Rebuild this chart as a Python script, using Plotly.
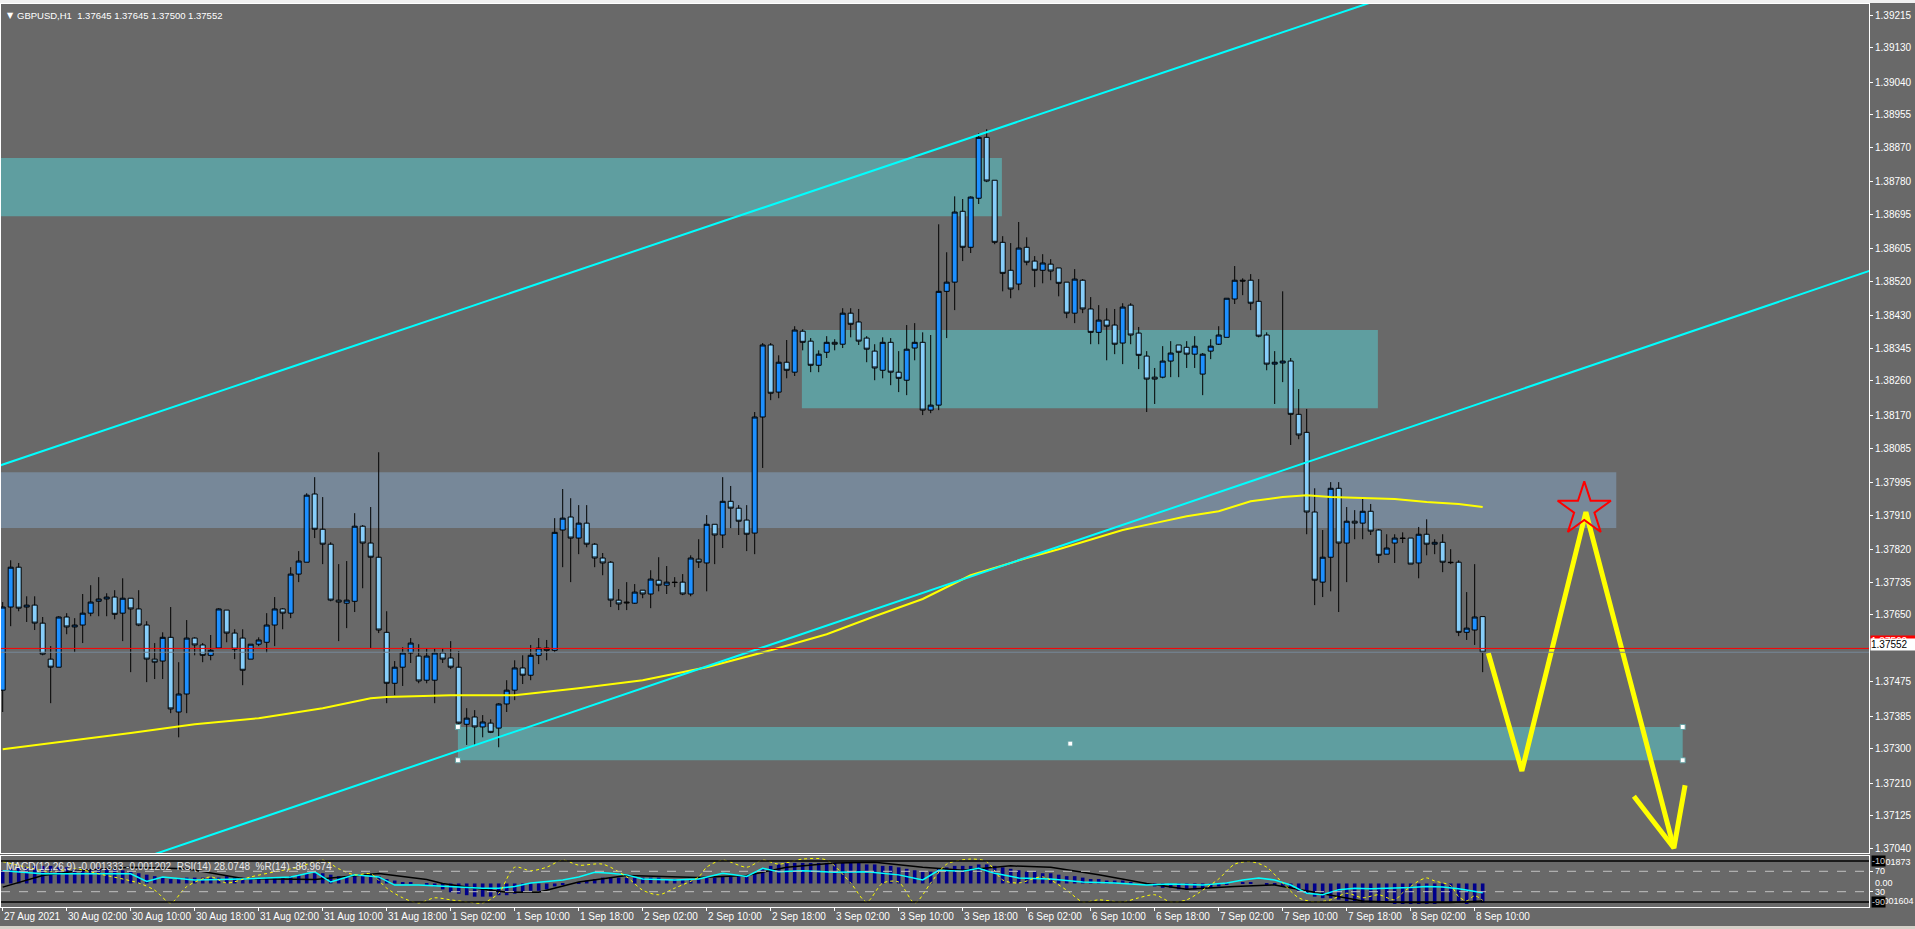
import plotly.graph_objects as go

# ---------------- data (GBPUSD H1) ----------------
opens = [1.37453, 1.37670, 1.37774, 1.37670, 1.37675, 1.37628, 1.37534, 1.37513, 1.37644, 1.37618,
         1.37623, 1.37654, 1.37685, 1.37691, 1.37696, 1.37654, 1.37693, 1.37665, 1.37623, 1.37534,
         1.37529, 1.37591, 1.37396, 1.37443, 1.37589, 1.37571, 1.37544, 1.37563, 1.37662, 1.37602,
         1.37589, 1.37534, 1.37573, 1.37578, 1.37623, 1.37665, 1.37654, 1.37756, 1.37787, 1.37965,
         1.37873, 1.37834, 1.37688, 1.37680, 1.37685, 1.37881, 1.37837, 1.37800, 1.37604, 1.37471,
         1.37513, 1.37550, 1.37542, 1.37479, 1.37479, 1.37550, 1.37537, 1.37513, 1.37364, 1.37383,
         1.37357, 1.37367, 1.37354, 1.37417, 1.37453, 1.37511, 1.37492, 1.37544, 1.37563, 1.37557,
         1.37871, 1.37905, 1.37850, 1.37889, 1.37834, 1.37798, 1.37787, 1.37688, 1.37683, 1.37680,
         1.37714, 1.37704, 1.37740, 1.37727, 1.37735, 1.37735, 1.37704, 1.37795, 1.37785, 1.37886,
         1.37858, 1.37946, 1.37928, 1.37897, 1.37863, 1.38166, 1.38354, 1.38231, 1.38309, 1.38283,
         1.38390, 1.38364, 1.38301, 1.38335, 1.38361, 1.38356, 1.38437, 1.38414, 1.38372, 1.38338,
         1.38288, 1.38361, 1.38283, 1.38262, 1.38346, 1.38361, 1.38184, 1.38197, 1.38494, 1.38518,
         1.38703, 1.38609, 1.38737, 1.38896, 1.38784, 1.38622, 1.38549, 1.38513, 1.38609, 1.38573,
         1.38549, 1.38565, 1.38555, 1.38518, 1.38437, 1.38523, 1.38448, 1.38387, 1.38419, 1.38406,
         1.38359, 1.38458, 1.38385, 1.38325, 1.38270, 1.38270, 1.38312, 1.38354, 1.38348, 1.38330,
         1.38278, 1.38338, 1.38356, 1.38374, 1.38474, 1.38523, 1.38523, 1.38468, 1.38380, 1.38304,
         1.38307, 1.38312, 1.38173, 1.38126, 1.37918, 1.37735, 1.37800, 1.37980, 1.37837, 1.37894,
         1.37889, 1.37920, 1.37871, 1.37808, 1.37837, 1.37850, 1.37850, 1.37785, 1.37860, 1.37834,
         1.37839, 1.37787, 1.37787, 1.37604, 1.37610, 1.37645]
highs = [1.37683, 1.37792, 1.37785, 1.37698, 1.37698, 1.37644, 1.37568, 1.37646, 1.37654, 1.37641,
         1.37704, 1.37727, 1.37748, 1.37706, 1.37714, 1.37745, 1.37693, 1.37714, 1.37633, 1.37576,
         1.37604, 1.37670, 1.37526, 1.37636, 1.37591, 1.37576, 1.37597, 1.37667, 1.37662, 1.37612,
         1.37612, 1.37573, 1.37591, 1.37654, 1.37696, 1.37667, 1.37774, 1.37816, 1.37967, 1.38009,
         1.37957, 1.37839, 1.37782, 1.37790, 1.37915, 1.37884, 1.37931, 1.38074, 1.37659, 1.37529,
         1.37565, 1.37589, 1.37573, 1.37563, 1.37563, 1.37563, 1.37581, 1.37555, 1.37406, 1.37401,
         1.37388, 1.37377, 1.37419, 1.37479, 1.37531, 1.37544, 1.37571, 1.37589, 1.37584, 1.37902,
         1.37978, 1.37954, 1.37936, 1.37936, 1.37837, 1.37811, 1.37790, 1.37717, 1.37735, 1.37730,
         1.37714, 1.37766, 1.37800, 1.37777, 1.37748, 1.37756, 1.37805, 1.37847, 1.37910, 1.37886,
         1.38009, 1.37986, 1.37936, 1.37936, 1.38179, 1.38359, 1.38359, 1.38327, 1.38367, 1.38403,
         1.38395, 1.38372, 1.38340, 1.38377, 1.38369, 1.38450, 1.38450, 1.38448, 1.38377, 1.38356,
         1.38374, 1.38372, 1.38338, 1.38406, 1.38411, 1.38387, 1.38380, 1.38669, 1.38596, 1.38742,
         1.38735, 1.38742, 1.38907, 1.38917, 1.38784, 1.38638, 1.38620, 1.38675, 1.38635, 1.38586,
         1.38591, 1.38578, 1.38555, 1.38518, 1.38552, 1.38526, 1.38479, 1.38458, 1.38450, 1.38448,
         1.38463, 1.38463, 1.38401, 1.38338, 1.38294, 1.38351, 1.38364, 1.38354, 1.38364, 1.38377,
         1.38333, 1.38369, 1.38403, 1.38476, 1.38560, 1.38528, 1.38539, 1.38526, 1.38387, 1.38338,
         1.38494, 1.38320, 1.38239, 1.38187, 1.37980, 1.37871, 1.37996, 1.37996, 1.37931, 1.37923,
         1.37954, 1.37939, 1.37873, 1.37860, 1.37860, 1.37865, 1.37850, 1.37879, 1.37899, 1.37847,
         1.37860, 1.37821, 1.37792, 1.37709, 1.37782, 1.37645]
lows = [1.37396, 1.37620, 1.37659, 1.37631, 1.37610, 1.37544, 1.37419, 1.37513, 1.37599, 1.37552,
        1.37576, 1.37646, 1.37646, 1.37646, 1.37638, 1.37581, 1.37500, 1.37620, 1.37474, 1.37482,
        1.37482, 1.37393, 1.37330, 1.37393, 1.37544, 1.37526, 1.37531, 1.37563, 1.37578, 1.37534,
        1.37466, 1.37534, 1.37568, 1.37550, 1.37568, 1.37612, 1.37641, 1.37735, 1.37787, 1.37850,
        1.37782, 1.37685, 1.37581, 1.37615, 1.37657, 1.37719, 1.37563, 1.37602, 1.37419, 1.37440,
        1.37464, 1.37524, 1.37471, 1.37471, 1.37419, 1.37524, 1.37508, 1.37357, 1.37310, 1.37310,
        1.37330, 1.37341, 1.37304, 1.37396, 1.37427, 1.37469, 1.37479, 1.37521, 1.37531, 1.37552,
        1.37774, 1.37735, 1.37808, 1.37826, 1.37774, 1.37753, 1.37670, 1.37662, 1.37662, 1.37678,
        1.37693, 1.37667, 1.37711, 1.37704, 1.37722, 1.37701, 1.37698, 1.37772, 1.37711, 1.37782,
        1.37824, 1.37876, 1.37858, 1.37816, 1.37808, 1.38033, 1.38210, 1.38215, 1.38267, 1.38273,
        1.38340, 1.38283, 1.38283, 1.38320, 1.38340, 1.38346, 1.38374, 1.38354, 1.38309, 1.38262,
        1.38267, 1.38249, 1.38231, 1.38223, 1.38314, 1.38171, 1.38176, 1.38184, 1.38372, 1.38445,
        1.38573, 1.38594, 1.38722, 1.38779, 1.38617, 1.38494, 1.38476, 1.38497, 1.38562, 1.38505,
        1.38515, 1.38523, 1.38481, 1.38424, 1.38411, 1.38437, 1.38356, 1.38356, 1.38314, 1.38330,
        1.38304, 1.38356, 1.38291, 1.38179, 1.38200, 1.38267, 1.38270, 1.38270, 1.38294, 1.38294,
        1.38223, 1.38317, 1.38354, 1.38374, 1.38461, 1.38484, 1.38445, 1.38374, 1.38288, 1.38200,
        1.38257, 1.38093, 1.38108, 1.37860, 1.37675, 1.37696, 1.37711, 1.37657, 1.37735, 1.37847,
        1.37847, 1.37858, 1.37785, 1.37808, 1.37785, 1.37837, 1.37782, 1.37745, 1.37805, 1.37808,
        1.37761, 1.37782, 1.37594, 1.37584, 1.37571, 1.37500]
closes = [1.37670, 1.37774, 1.37667, 1.37675, 1.37628, 1.37547, 1.37513, 1.37644, 1.37618, 1.37623,
          1.37654, 1.37683, 1.37691, 1.37696, 1.37651, 1.37693, 1.37665, 1.37623, 1.37534, 1.37526,
          1.37591, 1.37404, 1.37443, 1.37589, 1.37571, 1.37544, 1.37557, 1.37665, 1.37602, 1.37560,
          1.37505, 1.37573, 1.37584, 1.37623, 1.37665, 1.37654, 1.37756, 1.37790, 1.37962, 1.37873,
          1.37834, 1.37688, 1.37683, 1.37688, 1.37881, 1.37837, 1.37800, 1.37610, 1.37471, 1.37513,
          1.37550, 1.37576, 1.37477, 1.37542, 1.37550, 1.37534, 1.37513, 1.37367, 1.37380, 1.37357,
          1.37370, 1.37343, 1.37417, 1.37453, 1.37511, 1.37492, 1.37544, 1.37563, 1.37557, 1.37865,
          1.37902, 1.37850, 1.37889, 1.37834, 1.37798, 1.37785, 1.37688, 1.37678, 1.37681, 1.37709,
          1.37704, 1.37743, 1.37727, 1.37735, 1.37734, 1.37704, 1.37798, 1.37787, 1.37886, 1.37858,
          1.37946, 1.37928, 1.37894, 1.37860, 1.38166, 1.38354, 1.38228, 1.38309, 1.38288, 1.38393,
          1.38361, 1.38301, 1.38330, 1.38361, 1.38356, 1.38437, 1.38408, 1.38364, 1.38343, 1.38294,
          1.38361, 1.38283, 1.38267, 1.38343, 1.38361, 1.38184, 1.38197, 1.38494, 1.38518, 1.38701,
          1.38609, 1.38740, 1.38896, 1.38782, 1.38622, 1.38541, 1.38500, 1.38607, 1.38570, 1.38549,
          1.38568, 1.38547, 1.38515, 1.38437, 1.38526, 1.38448, 1.38387, 1.38419, 1.38403, 1.38356,
          1.38453, 1.38380, 1.38327, 1.38265, 1.38265, 1.38312, 1.38333, 1.38335, 1.38330, 1.38351,
          1.38330, 1.38351, 1.38380, 1.38476, 1.38523, 1.38521, 1.38463, 1.38377, 1.38304, 1.38309,
          1.38312, 1.38173, 1.38119, 1.37918, 1.37740, 1.37800, 1.37980, 1.37837, 1.37894, 1.37889,
          1.37920, 1.37868, 1.37805, 1.37824, 1.37850, 1.37849, 1.37782, 1.37860, 1.37834, 1.37839,
          1.37787, 1.37786, 1.37604, 1.37615, 1.37644, 1.37552]

# time-axis labels (bar number of each label)
tick_bars = [0, 8, 16, 24, 32, 40, 48, 56, 64, 72, 80, 88, 96, 104, 112, 120, 128, 136, 144, 152, 160, 168, 176, 184]
tick_labels = ["27 Aug 2021", "30 Aug 02:00", "30 Aug 10:00", "30 Aug 18:00", "31 Aug 02:00", "31 Aug 10:00",
               "31 Aug 18:00", "1 Sep 02:00", "1 Sep 10:00", "1 Sep 18:00", "2 Sep 02:00", "2 Sep 10:00",
               "2 Sep 18:00", "3 Sep 02:00", "3 Sep 10:00", "3 Sep 18:00", "6 Sep 02:00", "6 Sep 10:00",
               "6 Sep 18:00", "7 Sep 02:00", "7 Sep 10:00", "7 Sep 18:00", "8 Sep 02:00", "8 Sep 10:00"]
price_labels = ["1.39215", "1.39130", "1.39040", "1.38955", "1.38870", "1.38780", "1.38695", "1.38605",
                "1.38520", "1.38430", "1.38345", "1.38260", "1.38170", "1.38085", "1.37995", "1.37910",
                "1.37820", "1.37735", "1.37650", "1.37475", "1.37385", "1.37300", "1.37210", "1.37125",
                "1.37040"]

# moving average (yellow)
ma_bars = [0, 8, 16, 24, 32, 40, 44, 46, 48, 56, 64, 72, 80, 88, 96, 103, 109, 115, 121, 128, 132, 136,
           140, 144, 148, 152, 156, 160, 163, 166, 170, 174, 178, 182, 185]
ma_values = [1.37299, 1.37320, 1.37341, 1.37364, 1.37380, 1.37406, 1.37424, 1.37432, 1.37435, 1.37440,
             1.37440, 1.37458, 1.37479, 1.37513, 1.37557, 1.37599, 1.37646, 1.37691, 1.37753, 1.37798,
             1.37821, 1.37847, 1.37871, 1.37889, 1.37907, 1.37920, 1.37946, 1.37957, 1.37962, 1.37957,
             1.37954, 1.37952, 1.37944, 1.37939, 1.37931]

# channel trend lines (two anchors each)
upper_line_bars = [-1.0, 175.0]
upper_line_prices = [1.38035, 1.39276]
lower_line_bars = [-1.0, 234.0]
lower_line_prices = [1.36883, 1.38552]

# zones: start bar, end bar, top, bottom, colour
zone_start = [-1.0, 99.9, -1.0, 56.9]
zone_end = [124.9, 171.9, 201.7, 210.0]
zone_top = [1.38842, 1.38393, 1.38022, 1.37357]
zone_bottom = [1.38690, 1.38189, 1.37876, 1.37270]
zone_color = ["#5F9EA0", "#5F9EA0", "#778899", "#5F9EA0"]

bid_price = 1.37552
ask_price = 1.37562

# hand-drawn projection (yellow zigzag + arrow head + star)
zz_bars = [185.7, 189.9, 197.9, 208.9]
zz_prices = [1.37550, 1.37242, 1.37918, 1.37041]
barb_bars = [203.9, 208.9, 210.3]
barb_prices = [1.37176, 1.37041, 1.37205]
star_bar = [197.7]
star_price = [1.37925]

# sub-window indicators
macd_hist = [0.0009, 0.0010, 0.0011, 0.0011, 0.0012, 0.0012, 0.0012, 0.0011,
             0.0011, 0.0010, 0.0010, 0.0010, 0.0011, 0.0010, 0.0010, 0.0009,
             0.0008, 0.0007, 0.0006, 0.0005, 0.0004, 0.0003, 0.0003, 0.0004,
             0.0004, 0.0004, 0.0004, 0.0004, 0.0005, 0.0004, 0.0004, 0.0003,
             0.0003, 0.0004, 0.0004, 0.0004, 0.0005, 0.0006, 0.0007, 0.0007,
             0.0007, 0.0006, 0.0005, 0.0005, 0.0006, 0.0006, 0.0006, 0.0005,
             0.0003, 0.0002, 0.0001, 0.00005, 0.0, -0.0001, -0.0002, -0.0004,
             -0.0006, -0.0007, -0.0008, -0.0009, -0.0009, -0.0009, -0.0008, -0.0008,
             -0.0007, -0.0006, -0.0005, -0.0005, -0.0004, -0.0002, -0.0001, 0.0,
             0.0001, 0.0002, 0.0003, 0.0004, 0.0004, 0.0004, 0.0004, 0.0004,
             0.0004, 0.0004, 0.0004, 0.0003, 0.0003, 0.0003, 0.0003, 0.0003,
             0.0004, 0.0004, 0.0005, 0.0005, 0.0005, 0.0005, 0.0007, 0.0010,
             0.0012, 0.0013, 0.0014, 0.0014, 0.0014, 0.0014, 0.0014, 0.0014,
             0.0014, 0.0014, 0.0014, 0.0014, 0.0013, 0.0013, 0.0012, 0.0012,
             0.0011, 0.0010, 0.0009, 0.0008, 0.0008, 0.0010, 0.0011, 0.0012,
             0.0012, 0.0012, 0.0013, 0.0013, 0.0012, 0.0011, 0.0010, 0.0009,
             0.0008, 0.0008, 0.0007, 0.0007, 0.0006, 0.0005, 0.0005, 0.0004,
             0.0003, 0.0003, 0.0002, 0.0002, 0.0002, 0.0001, 0.0, -0.0001,
             -0.0002, -0.0003, -0.0003, -0.0004, -0.0004, -0.0004, -0.0004, -0.0003,
             -0.0002, -0.0001, 0.0, 0.00005, 0.00005, 0.0, -0.0001, -0.0001,
             -0.0002, -0.0003, -0.0005, -0.0007, -0.0009, -0.0010, -0.0010, -0.0011,
             -0.0012, -0.0012, -0.0013, -0.0013, -0.0013, -0.0013, -0.0014, -0.0014,
             -0.0014, -0.0014, -0.0014, -0.0014, -0.0013, -0.0013, -0.0013, -0.0014,
             -0.0013, -0.0013]
sig_bars = [0, 5, 10, 16, 23, 30, 39, 47, 53, 55, 60, 63, 67, 72, 78, 87, 93, 98, 104, 109, 115, 120,
            126, 131, 137, 143, 148, 154, 159, 165, 170, 175, 181, 185]
sig_values = [-0.00025, 0.00055, 0.0009, 0.0011, 0.0010, 0.00034, 0.00027, 0.00068, 0.00027, 0.0,
              -0.0004, -0.0006, -0.0006, 0.0001, 0.00055, 0.0004, 0.00055, 0.0011, 0.0014, 0.00145,
              0.0011, 0.0009, 0.0012, 0.0011, 0.0006, 0.0, -0.0004, -0.0002, -0.0001, -0.0007,
              -0.0012, -0.0013, -0.0013, -0.0012]
rsi_bars = [0, 5, 10, 16, 18, 20, 24, 30, 36, 39, 41, 44, 47, 49, 52, 56, 60, 62, 64, 66, 70, 72, 74, 76,
            78, 80, 84, 87, 90, 93, 95, 97, 100, 104, 108, 112, 115, 117, 120, 122, 124, 127, 131, 135,
            139, 143, 146, 150, 153, 155, 157, 159, 161, 163, 165, 167, 169, 171, 174, 176, 178, 180,
            182, 184, 185]
rsi_values = [71, 65, 65, 65, 50, 59, 53, 55, 59, 69, 49, 63, 59, 43, 43, 40, 37, 37, 40, 47, 53, 59, 68,
              66, 63, 55, 53, 55, 66, 60, 76, 69, 71, 68, 69, 63, 53, 72, 70, 76, 66, 57, 55, 49, 47,
              43, 45, 43, 47, 53, 57, 53, 43, 27, 24, 34, 37, 36, 37, 38, 40, 39, 36, 31, 28.07]
wpr_bars = [0, 3, 6, 9, 12, 17, 19, 21, 23, 26, 28, 31, 34, 37, 40, 42, 44, 46, 48, 50, 52, 54, 56, 58,
            60, 62, 64, 66, 68, 70, 72, 75, 78, 80, 82, 84, 87, 88, 90, 93, 95, 97, 100, 103, 106, 108,
            110, 112, 114, 116, 118, 121, 123, 125, 127, 130, 133, 135, 137, 140, 142, 144, 146, 148,
            150, 152, 154, 156, 158, 160, 162, 164, 166, 168, 170, 172, 174, 175, 177, 178, 179, 181,
            182, 183, 184, 185]
wpr_values = [-11, -22, -31, -25, -35, -53, -67, -92, -60, -41, -53, -41, -31, -22, -8, -25, -37, -35,
              -63, -82, -92, -82, -86, -90, -92, -73, -22, -29, -22, -8, -18, -16, -41, -67, -76, -63,
              -41, -22, -8, -22, -8, -16, -6, -8, -53, -90, -53, -51, -92, -53, -16, -6, -11, -47, -53,
              -41, -67, -90, -86, -90, -82, -76, -90, -86, -67, -45, -16, -11, -22, -53, -82, -90, -86,
              -73, -82, -76, -86, -72, -49, -43, -49, -58, -80, -88, -78, -86.97]
macd_range = [-0.001604, 0.001873]

# ---------------- geometry ----------------
W, H = 1915, 929
ML, MR, MT, MB = 1, 46, 4, 22
PW = W - ML - MR
PH = H - MT - MB


def px_x(X):
    return (X - ML) / PW


def px_y(Y):
    return (H - MB - Y) / PH


x_range = [-0.2125, 233.29]
y_range = [1.37028, 1.39244]
BG = "#696969"
FONT = "Liberation Sans"

fig = go.Figure()
bars = list(range(len(opens)))

fig.add_trace(go.Candlestick(
    x=bars, open=opens, high=highs, low=lows, close=closes,
    increasing=dict(fillcolor="#1E90FF", line=dict(color="black", width=1)),
    decreasing=dict(fillcolor="#87CEFA", line=dict(color="black", width=1)),
    whiskerwidth=0, xaxis="x", yaxis="y", showlegend=False, hoverinfo="skip"))

fig.add_trace(go.Scatter(x=ma_bars, y=ma_values, mode="lines", line=dict(color="#FFFF00", width=2),
                         xaxis="x", yaxis="y", showlegend=False, hoverinfo="skip"))
for bx, py in ((upper_line_bars, upper_line_prices), (lower_line_bars, lower_line_prices)):
    fig.add_trace(go.Scatter(x=bx, y=py, mode="lines", line=dict(color="#00FFFF", width=2),
                             xaxis="x", yaxis="y", showlegend=False, hoverinfo="skip"))

fig.add_trace(go.Scatter(x=zz_bars, y=zz_prices, mode="lines", line=dict(color="#FFFF00", width=5),
                         xaxis="x", yaxis="y", showlegend=False, hoverinfo="skip"))
fig.add_trace(go.Scatter(x=barb_bars, y=barb_prices, mode="lines", line=dict(color="#FFFF00", width=5),
                         xaxis="x", yaxis="y", showlegend=False, hoverinfo="skip"))
fig.add_trace(go.Scatter(x=star_bar, y=star_price, mode="markers",
                         marker=dict(symbol="star-open", size=40, color="#FF0000",
                                     line=dict(color="#FF0000", width=2)),
                         xaxis="x", yaxis="y", showlegend=False, hoverinfo="skip"))

# selection handles of the lower zone
z = 3
hx = [zone_start[z], zone_start[z], zone_end[z], zone_end[z], (zone_start[z] + zone_end[z]) / 2]
hy = [zone_top[z], zone_bottom[z], zone_top[z], zone_bottom[z], (zone_top[z] + zone_bottom[z]) / 2]
fig.add_trace(go.Scatter(x=hx, y=hy, mode="markers",
                         marker=dict(symbol="square", size=5, color="white",
                                     line=dict(color="#5F9EA0", width=1)),
                         xaxis="x", yaxis="y", showlegend=False, hoverinfo="skip", cliponaxis=False))

# indicator window
fig.add_trace(go.Bar(x=bars, y=macd_hist, width=0.45, marker=dict(color="#00008B", line=dict(width=0)),
                     xaxis="x2", yaxis="y2", showlegend=False, hoverinfo="skip"))
fig.add_trace(go.Scatter(x=sig_bars, y=sig_values, mode="lines", line=dict(color="black", width=1.5),
                         xaxis="x2", yaxis="y2", showlegend=False, hoverinfo="skip"))
fig.add_trace(go.Scatter(x=rsi_bars, y=rsi_values, mode="lines", line=dict(color="#00FFFF", width=1.5),
                         xaxis="x2", yaxis="y3", showlegend=False, hoverinfo="skip"))
fig.add_trace(go.Scatter(x=wpr_bars, y=wpr_values, mode="lines",
                         line=dict(color="#FFFF00", width=1, dash="dot", shape="spline", smoothing=0.8),
                         xaxis="x2", yaxis="y4", showlegend=False, hoverinfo="skip"))

shapes = []
for i in range(len(zone_start)):
    shapes.append(dict(type="rect", xref="x", yref="y", x0=zone_start[i], x1=zone_end[i],
                       y0=zone_bottom[i], y1=zone_top[i], fillcolor=zone_color[i],
                       line=dict(width=0), layer="below"))
shapes.append(dict(type="line", xref="paper", yref="y", x0=0, x1=1, y0=ask_price, y1=ask_price,
                   line=dict(color="#FF0000", width=1)))
shapes.append(dict(type="line", xref="paper", yref="y", x0=0, x1=1, y0=bid_price, y1=bid_price,
                   line=dict(color="#778899", width=1)))
for lv in (70, 30):
    shapes.append(dict(type="line", xref="paper", yref="y3", x0=0, x1=1, y0=lv, y1=lv,
                       line=dict(color="#C0C0C0", width=1, dash="dash")))
for lv in (-10, -90):
    shapes.append(dict(type="line", xref="paper", yref="y4", x0=0, x1=1, y0=lv, y1=lv,
                       line=dict(color="black", width=1.5)))
# window chrome strips
shapes.append(dict(type="rect", xref="paper", yref="paper", x0=px_x(0), x1=px_x(W), y0=px_y(3), y1=px_y(0),
                   fillcolor="#F0F0F0", line=dict(width=0), layer="above"))
shapes.append(dict(type="rect", xref="paper", yref="paper", x0=px_x(0), x1=px_x(W), y0=px_y(H), y1=px_y(926),
                   fillcolor="#D4D0C8", line=dict(width=0), layer="above"))

ann = []
ann.append(dict(text="▼", xref="paper", yref="paper", x=px_x(5), y=px_y(15), xanchor="left",
                yanchor="middle", showarrow=False, font=dict(family="DejaVu Sans", size=8, color="white")))
ann.append(dict(text="GBPUSD,H1\u00a0\u00a01.37645 1.37645 1.37500 1.37552", xref="paper", yref="paper",
                x=px_x(15), y=px_y(15), xanchor="left", yanchor="middle", showarrow=False,
                font=dict(family=FONT, size=9.5, color="white")))
ann.append(dict(text="MACD(12,26,9) -0.001333 -0.001202\u00a0\u00a0RSI(14) 28.0748\u00a0\u00a0%R(14) -86.9674",
                xref="paper", yref="paper", x=px_x(4), y=px_y(866), xanchor="left", yanchor="middle",
                showarrow=False, font=dict(family=FONT, size=10, color="#E8E8E8")))
for b, t in zip(tick_bars, tick_labels):
    ann.append(dict(text=t, xref="x2", yref="paper", x=b, y=px_y(917), xanchor="left", yanchor="middle",
                    showarrow=False, xshift=-1, font=dict(family=FONT, size=10, color="white")))

# indicator window scale labels
xl = px_x(1872)
ann.append(dict(text="0.001873", xref="paper", yref="y2", x=xl, y=macd_range[1], xanchor="left",
                yanchor="top", showarrow=False, borderpad=0, font=dict(family=FONT, size=9, color="white")))
ann.append(dict(text="-0.001604", xref="paper", yref="y2", x=xl, y=macd_range[0], xanchor="left",
                yanchor="bottom", showarrow=False, borderpad=0, font=dict(family=FONT, size=9, color="white")))
ann.append(dict(text="0.00", xref="paper", yref="y2", x=px_x(1874), y=0, xanchor="left", yanchor="middle",
                showarrow=False, borderpad=0, font=dict(family=FONT, size=9, color="white")))
for lv in (70, 30):
    ann.append(dict(text=str(lv), xref="paper", yref="y3", x=px_x(1874), y=lv, xanchor="left",
                    yanchor="middle", showarrow=False, borderpad=0,
                    font=dict(family=FONT, size=9, color="white")))
for lv in (-10, -90):
    ann.append(dict(text=str(lv), xref="paper", yref="y4", x=px_x(1871), y=lv, xanchor="left",
                    yanchor="middle", showarrow=False, bgcolor="black", borderpad=0,
                    font=dict(family=FONT, size=9, color="#D0D0D0")))
# ask / bid price boxes
ann.append(dict(text="%.5f" % ask_price, xref="paper", yref="y", x=px_x(1870), y=ask_price, yshift=7,
                xanchor="left", yanchor="middle", showarrow=False, bgcolor="#FF0000", borderpad=0,
                width=44, align="left", font=dict(family=FONT, size=10, color="white")))
ann.append(dict(text="%.5f" % bid_price, xref="paper", yref="y", x=px_x(1870), y=bid_price, yshift=8,
                xanchor="left", yanchor="middle", showarrow=False, bgcolor="white", borderpad=0,
                width=44, align="left", font=dict(family=FONT, size=10, color="black")))

main_dom = [px_y(853), 1.0]
ind_dom = [0.0, px_y(856)]

fig.update_layout(
    width=W, height=H, margin=dict(l=ML, r=MR, t=MT, b=MB, pad=0),
    paper_bgcolor=BG, plot_bgcolor=BG, showlegend=False, hovermode=False,
    boxgap=0.375, boxgroupgap=0,
    shapes=shapes, annotations=ann,
    xaxis=dict(domain=[0, 1], anchor="y", range=x_range, showgrid=False, zeroline=False,
               showticklabels=False, ticks="", showline=True, mirror=True, linecolor="white", linewidth=1,
               rangeslider=dict(visible=False), fixedrange=True),
    yaxis=dict(domain=main_dom, anchor="x", side="right", range=y_range, showgrid=False, zeroline=False,
               tickvals=[float(p) for p in price_labels], ticktext=price_labels, ticks="outside",
               ticklen=3, tickcolor="white", tickfont=dict(family=FONT, size=10, color="white"),
               showline=True, mirror=True, linecolor="white", linewidth=1, fixedrange=True),
    xaxis2=dict(domain=[0, 1], anchor="y2", range=x_range, showgrid=False, zeroline=False,
                showticklabels=False, tickvals=tick_bars, ticks="outside", ticklen=3, tickcolor="white",
                showline=True, mirror=True, linecolor="white", linewidth=1, fixedrange=True),
    yaxis2=dict(domain=ind_dom, anchor="x2", side="right", range=macd_range, showgrid=False,
                zeroline=False, showticklabels=False, ticks="", showline=True, mirror=True,
                linecolor="white", linewidth=1, fixedrange=True),
    yaxis3=dict(overlaying="y2", anchor="x2", side="right", range=[0, 100], showgrid=False,
                zeroline=False, showticklabels=False, tickvals=[70, 30], ticks="outside", ticklen=3,
                tickcolor="white", showline=False, fixedrange=True),
    yaxis4=dict(overlaying="y2", anchor="x2", side="right", range=[-100, 0], showgrid=False,
                zeroline=False, showticklabels=False, ticks="", showline=False, fixedrange=True),
)

fig.write_html("out.html", config={"displayModeBar": False},
               post_script="document.body.style.margin='0';document.body.style.overflow='hidden';")
